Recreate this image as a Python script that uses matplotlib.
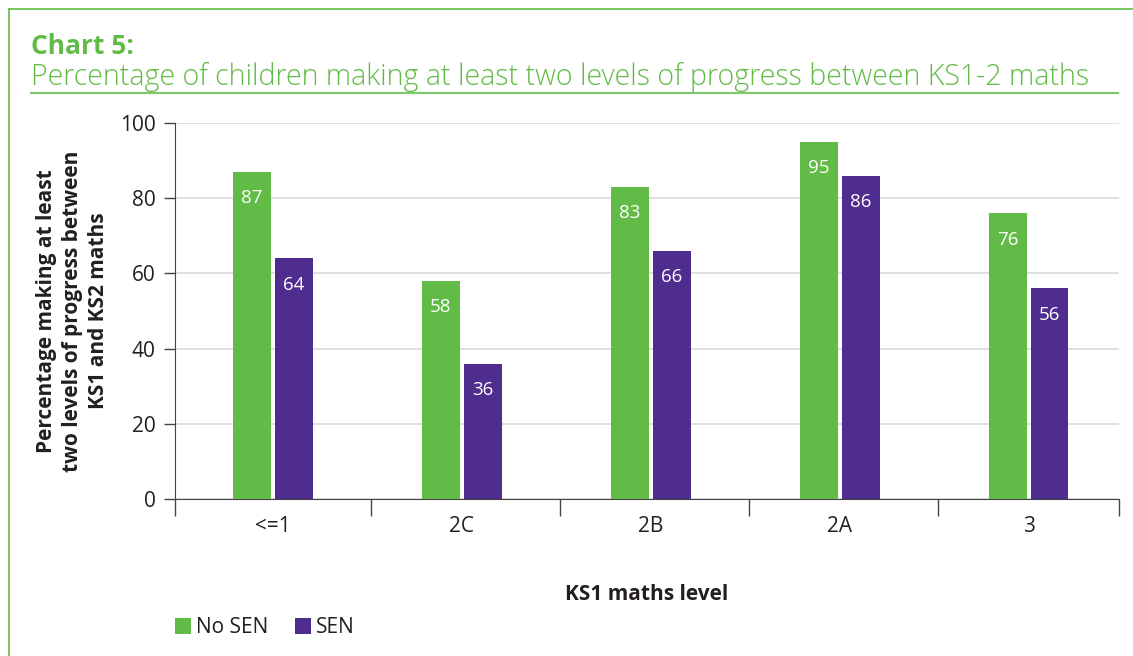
import numpy as np
import matplotlib.pyplot as plt
from matplotlib.lines import Line2D

# data
levels = ['<=1', '2C', '2B', '2A', '3']
no_sen = [87, 58, 83, 95, 76]
sen = [64, 36, 66, 86, 56]

green = '#62bb46'
purple = '#4f2d8f'
txt = '#231f20'

plt.rcParams['font.family'] = ['Open Sans', 'DejaVu Sans']

fig = plt.figure(figsize=(11.33, 6.56), dpi=100)

# green frame round the chart
fig.add_artist(Line2D([9/1133, 9/1133], [0, 1 - 9/656], color=green, lw=1.2))
fig.add_artist(Line2D([9/1133, 1], [1 - 9/656, 1 - 9/656], color=green, lw=1.2))

fig.text(31/1133, 1 - 46/656, 'Chart 5:', color=green, fontsize=19,
         fontweight='bold', va='center', ha='left')
fig.text(31/1133, 1 - 77/656,
         'Percentage of children making at least two levels of progress between KS1-2 maths',
         color=green, fontsize=20.6, fontweight='light', va='center', ha='left')
fig.add_artist(Line2D([31/1133, 1118/1133], [1 - 93/656, 1 - 93/656], color='#7dc86a', lw=1.5))

ax = fig.add_axes([175/1133, 1 - 499/656, (1119 - 175)/1133, (499 - 123)/656])

x = np.arange(len(levels))
w = 0.201
gap = 0.021
b1 = ax.bar(x - w/2 - gap/2, no_sen, w, color=green, label='No SEN', zorder=3)
b2 = ax.bar(x + w/2 + gap/2, sen, w, color=purple, label='SEN', zorder=3)

for bars in (b1, b2):
    for r in bars:
        ax.annotate(f'{r.get_height():.0f}', (r.get_x() + r.get_width()/2, r.get_height()),
                    xytext=(0, -19), textcoords='offset points', ha='center', va='center',
                    color='white', fontsize=13.5, zorder=4)

left, right = -0.519, 4.479
ax.set_xlim(left, right)
ax.set_ylim(0, 100)
ax.set_yticks([0, 20, 40, 60, 80, 100])
ax.yaxis.grid(True, color='#d9d9d9', lw=1.2, zorder=0)
ax.set_xticks([left] + list(np.arange(0.519, 4, 1)) + [right])
ax.set_xticklabels([])
ax.set_xticks(x, minor=True)
ax.set_xticklabels(levels, minor=True)
ax.tick_params(axis='x', which='major', length=12, width=1, color='#444444')
ax.tick_params(axis='x', which='minor', length=0, pad=12, labelsize=15, labelcolor=txt)
ax.tick_params(axis='y', length=8, width=1, color='#444444', labelsize=15, labelcolor=txt, pad=6)

for s in ['top', 'right']:
    ax.spines[s].set_visible(False)
ax.spines['left'].set_color('#444444')
ax.spines['bottom'].set_color('#444444')

ax.set_ylabel('Percentage making at least\ntwo levels of progress between\nKS1 and KS2 maths',
              fontsize=15, fontweight='bold', color=txt, linespacing=1.3, labelpad=8)
ax.set_xlabel('KS1 maths level', fontsize=15, fontweight='bold', color=txt, labelpad=34)

ax.legend(loc='upper left', bbox_to_anchor=(0, -0.315), ncol=2, frameon=False,
          fontsize=15, handlelength=0.77, handleheight=0.77, handletextpad=0.25,
          columnspacing=1.25, borderpad=0, borderaxespad=0, labelcolor=txt)

fig.savefig('out.png', dpi=100)
